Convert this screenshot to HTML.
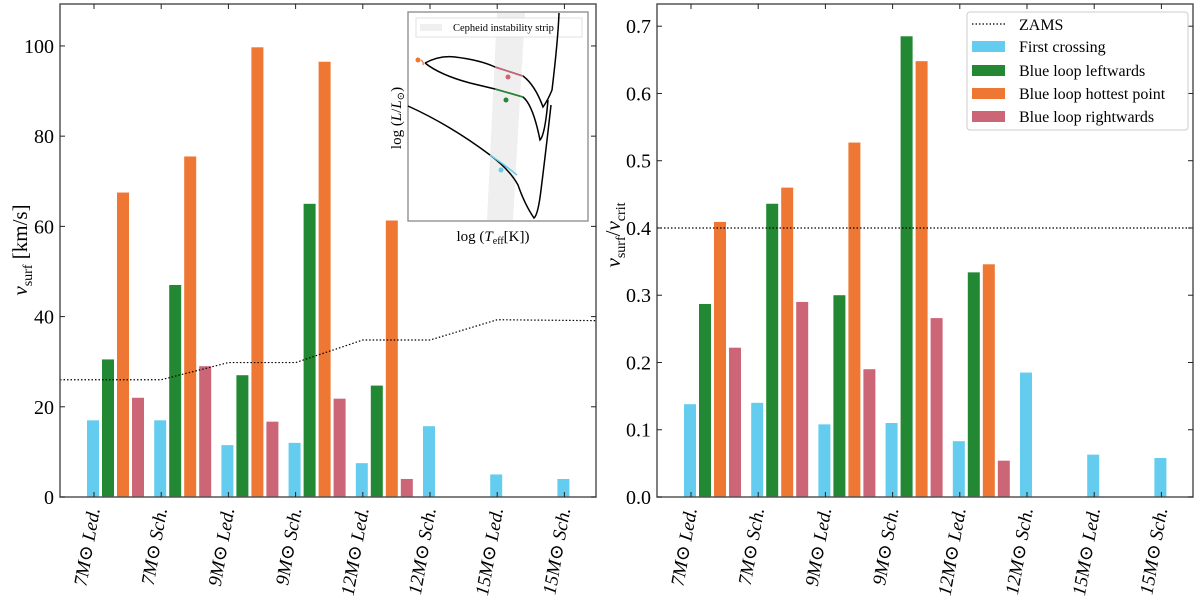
<!DOCTYPE html>
<html><head><meta charset="utf-8"><style>
body{margin:0;background:#fff;}
svg{display:block;font-family:"Liberation Serif","DejaVu Serif",serif;}
</style></head><body>
<svg id="c" width="1200" height="600" viewBox="0 0 1200 600"></svg>
<script>
const categories=["7M⊙ Led.","7M⊙ Sch.","9M⊙ Led.","9M⊙ Sch.","12M⊙ Led.","12M⊙ Sch.","15M⊙ Led.","15M⊙ Sch."];
const seriesNames=["First crossing","Blue loop leftwards","Blue loop hottest point","Blue loop rightwards"];
const seriesColors=["#64ccee","#228833","#ee7733","#cc6677"];
const vFirst=[17,17,11.5,12,7.5,15.7,5,4];
const vLeft=[30.5,47,27,65,24.7,0,0,0];
const vHot=[67.5,75.5,99.7,96.5,61.3,0,0,0];
const vRight=[22,29,16.7,21.8,4,0,0,0];
const zamsV=[26,26,29.8,29.8,34.8,34.8,39.3,39.1];
const rFirst=[0.138,0.14,0.108,0.11,0.083,0.185,0.063,0.058];
const rLeft=[0.287,0.436,0.3,0.685,0.334,0,0,0];
const rHot=[0.409,0.46,0.527,0.648,0.346,0,0,0];
const rRight=[0.222,0.29,0.19,0.266,0.054,0,0,0];
const zamsR=0.4;
const leftTicks=[0,20,40,60,80,100];
const rightTicks=[0,0.1,0.2,0.3,0.4,0.5,0.6,0.7];

const NS="http://www.w3.org/2000/svg";
const svg=document.getElementById('c');
function mk(tag,attrs,parent){const e=document.createElementNS(NS,tag);for(const k in attrs)e.setAttribute(k,attrs[k]);(parent||svg).appendChild(e);return e;}

function panel(o){
  const g=mk('g',{});
  
  
  const x=i=>o.x0+34+i*67.2;
  const y=v=>o.yb-(v/o.ymax)*(o.yb-o.yt);
  const series=[o.s1,o.s2,o.s3,o.s4];
  series.forEach((arr,si)=>{
    arr.forEach((v,i)=>{
      if(v<=0)return;
      const r=mk('rect',{x:x(i)-7+si*15,y:y(v),width:12,height:o.yb-y(v),fill:seriesColors[si]},g);
      
      
    });
  });
  let d;
  if(Array.isArray(o.zams)){
    d='M'+o.x0+','+y(o.zams[0]);
    o.zams.forEach((v,i)=>{d+=' L'+(i==o.zams.length-1?o.x1:x(i))+','+y(v);});
  } else d='M'+o.x0+','+y(o.zams)+' L'+o.x1+','+y(o.zams);
  const z=mk('path',{d:d,fill:'none',stroke:'#000','stroke-width':1.2,'stroke-dasharray':'1.5,2'},g);
  
  
  const f=mk('rect',{x:o.x0,y:o.yt,width:o.x1-o.x0,height:o.yb-o.yt,fill:'none',stroke:'#555','stroke-width':1.5},g);
  
  
  categories.forEach((c,i)=>{
    mk('line',{x1:x(i),x2:x(i),y1:o.yb,y2:o.yb-5,stroke:'#222'},g);
    mk('line',{x1:x(i),x2:x(i),y1:o.yt,y2:o.yt+5,stroke:'#222'},g);
    const t=mk('text',{x:0,y:0,'font-size':19,'font-style':'italic','text-anchor':'end',transform:'translate('+(x(i)+6)+','+(o.yb+12)+') rotate(-80)'},g);
    t.textContent=c;
    
    
  });
  o.ticks.forEach(v=>{
    mk('line',{x1:o.x0,x2:o.x0+5,y1:y(v),y2:y(v),stroke:'#222'},g);
    mk('line',{x1:o.x1,x2:o.x1-5,y1:y(v),y2:y(v),stroke:'#222'},g);
    const t=mk('text',{x:o.x0-6,y:y(v)+7,'font-size':20,'text-anchor':'end'},g);
    t.textContent=o.fmt(v);
    
    
  });
  return {g,x,y};
}

panel({name:'left-panel',x0:60,x1:596,yt:4,yb:497,ymax:109.3,s1:vFirst,s2:vLeft,s3:vHot,s4:vRight,zams:zamsV,ticks:leftTicks,fmt:v=>String(v)});
panel({name:'right-panel',x0:657,x1:1193,yt:4,yb:497,ymax:0.733,s1:rFirst,s2:rLeft,s3:rHot,s4:rRight,zams:zamsR,ticks:rightTicks,fmt:v=>v.toFixed(1)});
</script>
<script>
(function(){
const s=document.getElementById('c');
s.insertAdjacentHTML('beforeend',`
<text transform="translate(27,250) rotate(-90)" text-anchor="middle" font-size="21"><tspan font-style="italic">v</tspan><tspan font-size="14" dy="5">surf</tspan><tspan dy="-5"> [km/s]</tspan></text>
<text transform="translate(620,235) rotate(-90)" text-anchor="middle" font-size="21"><tspan font-style="italic">v</tspan><tspan font-size="14" dy="5">surf</tspan><tspan dy="-5">/</tspan><tspan font-style="italic">v</tspan><tspan font-size="14" dy="5">crit</tspan></text>
<g>
<rect x="967" y="12" width="221" height="118" rx="3" fill="#fff" stroke="#ccc"/>
<line x1="972" x2="1005" y1="24" y2="24" stroke="#000" stroke-dasharray="1.5,2" stroke-width="1.2"/>
<text x="1019" y="30" font-size="16">ZAMS</text>
<rect x="972" y="41" width="33" height="11" fill="#64ccee"/><text x="1019" y="52" font-size="16">First crossing</text>
<rect x="972" y="65" width="33" height="11" fill="#228833"/><text x="1019" y="76" font-size="16">Blue loop leftwards</text>
<rect x="972" y="88" width="33" height="11" fill="#ee7733"/><text x="1019" y="99" font-size="16">Blue loop hottest point</text>
<rect x="972" y="111" width="33" height="11" fill="#cc6677"/><text x="1019" y="122" font-size="16">Blue loop rightwards</text>
</g>
<g>
<rect x="408" y="12" width="180" height="209" fill="#fff" stroke="#888" stroke-width="1.3"/>
<polygon points="497,13 525,13 513,220 487,220" fill="#efefef"/>
<rect x="416" y="18" width="166" height="19" fill="#fff" stroke="#ddd" opacity="0.9"/>
<rect x="420" y="24" width="22" height="7" fill="#efefef"/>
<text x="453" y="31" font-size="10.5">Cepheid instability strip</text>
<path d="M425,63 Q440,55 455,57 Q480,60 495,67 L523,76 Q535,85 543,107 Q548,100 552,90 Q558,40 559,13" fill="none" stroke="#000" stroke-width="1.5"/>
<path d="M425,63 Q440,75 470,83 L495,89 L523,97 Q533,105 540,140 Q545,135 548,100" fill="none" stroke="#000" stroke-width="1.5"/>
<path d="M408,106 Q450,125 490,155 Q510,170 518,185 Q525,205 534,218 Q538,215 541,190 Q546,150 551,105" fill="none" stroke="#000" stroke-width="1.5"/>
<path d="M495,67 L523,76" stroke="#cc6677" stroke-width="1.5"/>
<path d="M495,89 L523,97" stroke="#228833" stroke-width="1.5"/>
<path d="M490,155 Q505,165 517,175" fill="none" stroke="#64ccee" stroke-width="1.5"/>
<path d="M421,60 Q424,62 423,65" fill="none" stroke="#ee7733" stroke-width="1.3"/>
<circle cx="418" cy="60" r="2.5" fill="#ee7733"/>
<circle cx="508" cy="77" r="2.5" fill="#cc6677"/>
<circle cx="506" cy="100" r="2.5" fill="#228833"/>
<circle cx="501" cy="170" r="2.5" fill="#64ccee"/>
<text transform="translate(401,118) rotate(-90)" text-anchor="middle" font-size="15">log (<tspan font-style="italic">L</tspan>/<tspan font-style="italic">L</tspan><tspan font-size="10" dy="3">⊙</tspan><tspan dy="-3">)</tspan></text>
<text x="493" y="241" text-anchor="middle" font-size="15">log (<tspan font-style="italic">T</tspan><tspan font-size="10" dy="3">eff</tspan><tspan dy="-3">[K])</tspan></text>
</g>`);
})();
</script>
</body></html>
